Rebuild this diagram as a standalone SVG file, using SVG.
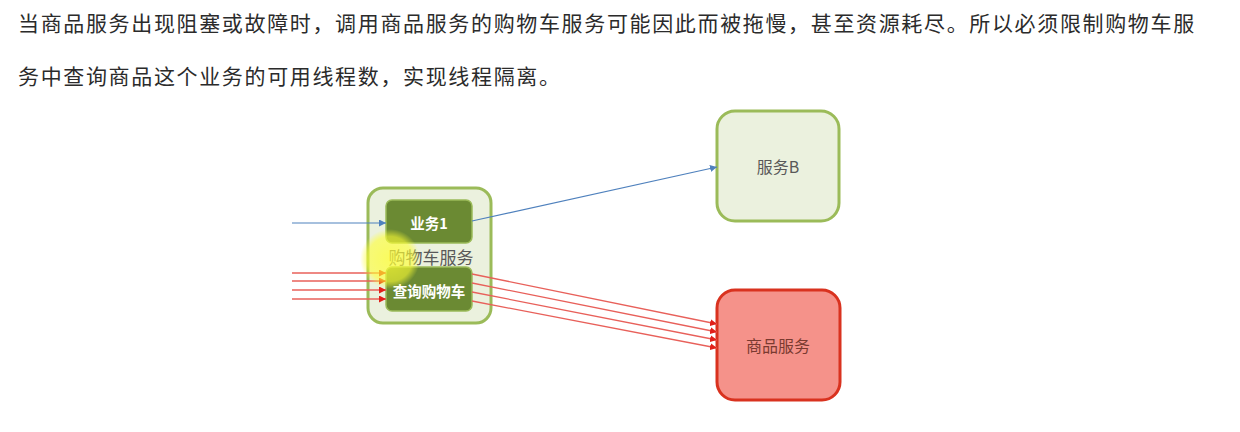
<svg xmlns="http://www.w3.org/2000/svg" width="1240" height="432" viewBox="0 0 1240 432">
<style>
  .para { font-family: "Noto Sans CJK SC", "Noto Sans", sans-serif; font-size: 21px; fill: #2b2b2b; letter-spacing: 1.65px; }
  .lbl { font-family: "Noto Sans CJK SC", "Noto Sans", sans-serif; text-anchor: middle; dominant-baseline: central; }
  .svc { fill: #ebf1de; stroke: #9bbb59; stroke-width: 3; }
  .inner { fill: #6b8a33; stroke: #9bbb59; stroke-width: 1.5; }
  .blue { stroke: #4f81bd; stroke-width: 1.2; fill: none; }
  .red { stroke: #e8605a; stroke-width: 1.3; fill: none; }
</style>
<defs>
  <marker id="ab" viewBox="0 0 10 10" refX="10" refY="5" markerWidth="7" markerHeight="7" markerUnits="userSpaceOnUse" orient="auto">
    <path d="M0,0 L10,5 L0,10 z" fill="#4f81bd"/>
  </marker>
  <marker id="ar" viewBox="0 0 10 10" refX="10" refY="5" markerWidth="7" markerHeight="7" markerUnits="userSpaceOnUse" orient="auto">
    <path d="M0,0 L10,5 L0,10 z" fill="#e0201a"/>
  </marker>
  <radialGradient id="glow" cx="0.5" cy="0.5" r="0.5">
    <stop offset="0" stop-color="#ffff33" stop-opacity="0.75"/>
    <stop offset="0.75" stop-color="#ffff33" stop-opacity="0.6"/>
    <stop offset="1" stop-color="#ffff33" stop-opacity="0"/>
  </radialGradient>
</defs>
<rect width="1240" height="432" fill="#ffffff"/>

<g id="intro">
  <text class="para" x="18" y="31">当商品服务出现阻塞或故障时，调用商品服务的购物车服务可能因此而被拖慢，甚至资源耗尽。所以必须限制购物车服</text>
  <text class="para" x="18" y="84">务中查询商品这个业务的可用线程数，实现线程隔离。</text>
</g>

<g id="cart-service">
  <rect class="svc" x="368" y="188" width="123" height="135" rx="15"/>
  <text class="lbl" x="431" y="256" font-size="17" fill="#595959">购物车服务</text>
</g>

<g id="biz1">
  <rect class="inner" x="386" y="200" width="86" height="43" rx="6"/>
  <text class="lbl" x="429" y="222" font-size="14.5" font-weight="bold" fill="#ffffff">业务1</text>
</g>

<g id="query-cart">
  <rect class="inner" x="386" y="267" width="86" height="44" rx="6"/>
  <text class="lbl" x="429" y="290" font-size="14.5" font-weight="bold" fill="#ffffff">查询购物车</text>
</g>

<g id="service-b">
  <rect class="svc" x="717" y="111" width="122" height="110" rx="18"/>
  <text class="lbl" x="778" y="166" font-size="16" fill="#595959">服务B</text>
</g>

<g id="product-service">
  <rect x="717" y="290" width="123" height="110" rx="18" fill="#f5928a" stroke="#d9321f" stroke-width="3"/>
  <text class="lbl" x="778" y="345" font-size="16" fill="#7a3a30">商品服务</text>
</g>

<g id="connectors">
  <line class="blue" x1="292" y1="223" x2="386" y2="223" marker-end="url(#ab)"/>
  <line class="blue" x1="472" y1="221" x2="717" y2="167" marker-end="url(#ab)"/>
  <line class="red" x1="292" y1="273" x2="386" y2="273" marker-end="url(#ar)"/>
  <line class="red" x1="292" y1="281" x2="386" y2="281" marker-end="url(#ar)"/>
  <line class="red" x1="292" y1="290" x2="386" y2="290" marker-end="url(#ar)"/>
  <line class="red" x1="292" y1="299" x2="386" y2="299" marker-end="url(#ar)"/>
  <line class="red" x1="472" y1="274" x2="717" y2="324" marker-end="url(#ar)"/>
  <line class="red" x1="472" y1="283" x2="717" y2="332" marker-end="url(#ar)"/>
  <line class="red" x1="472" y1="292" x2="717" y2="340" marker-end="url(#ar)"/>
  <line class="red" x1="472" y1="301" x2="717" y2="348" marker-end="url(#ar)"/>
</g>

<circle cx="390" cy="259" r="30" fill="url(#glow)"/>
</svg>
